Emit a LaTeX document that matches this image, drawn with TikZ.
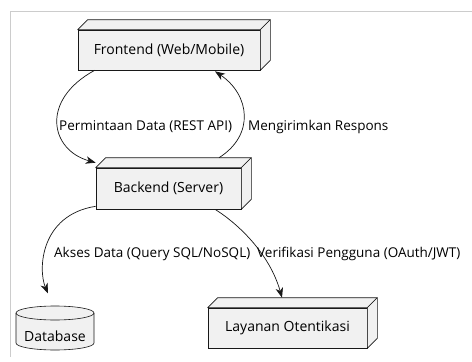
\documentclass[tikz,border=0pt]{standalone}
\usepackage{fontspec}
\setmainfont{Open Sans}
\usetikzlibrary{arrows.meta,calc}
\definecolor{boxfill}{HTML}{F1F1F1}
\definecolor{boxline}{HTML}{181818}
\definecolor{framegray}{HTML}{CCCCCC}
\tikzset{
  box3d/.style={draw=boxline, fill=boxfill, line width=0.6pt, inner sep=0pt,
    font=\fontsize{14}{16}\selectfont, text=black},
  edgelabel/.style={anchor=west, inner sep=0pt, font=\fontsize{13.5}{15}\selectfont, text=black},
  conn/.style={draw=boxline, line width=0.7pt, -{Stealth[length=10pt,width=7.5pt,inset=3pt]}},
  sidefill/.style={draw=boxline, fill=boxfill, line width=0.6pt, line join=round}
}
\newcommand{\boxdepth}[1]{%
  \path[sidefill] (#1.north west) -- ++(10,-10) -- ($(#1.north east)+(10,-10)$) -- (#1.north east) -- cycle;
  \path[sidefill] (#1.north east) -- ++(10,-10) -- ($(#1.south east)+(10,-10)$) -- (#1.south east) -- cycle;
}
\begin{document}
\begin{tikzpicture}[x=1pt,y=-1pt]
\useasboundingbox (0,0) rectangle (472,362);
\fill[white] (0,0) rectangle (472,362);
% frame
\draw[framegray, line width=1pt] (472,11) -- (10,11) -- (10,357);

% nodes
\node[box3d, minimum width=182pt, minimum height=40pt] (fe) at (169,50) {Frontend (Web/Mobile)};
\boxdepth{fe}
\node[box3d, minimum width=145pt, minimum height=41pt] (be) at (168.5,188.5) {Backend (Server)};
\boxdepth{be}
\node[box3d, minimum width=159pt, minimum height=40pt] (la) at (287.5,328) {Layanan Otentikasi};
\boxdepth{la}

% database cylinder
\path[draw=boxline, fill=boxfill, line width=0.6pt]
  (16,313) -- (16,343) arc[start angle=180, end angle=360, x radius=39pt, y radius=7pt]
  -- (94,313) arc[start angle=0, end angle=180, x radius=39pt, y radius=7pt] -- cycle;
\draw[boxline, line width=0.6pt] (16,313) arc[start angle=180, end angle=360, x radius=39pt, y radius=7pt];
\node[inner sep=0pt, font=\fontsize{14}{16}\selectfont, text=black] (db) at (55,336) {Database};

% connectors
\draw[conn] ($(fe.south west)+(17,0)$) .. controls (40,100) and (50,150) .. ($(be.north west)+(0,-5)$);
\draw[conn] ($(be.north)+(50.5,-10)$) .. controls (255,135) and (250,95) .. ($(fe.south)+(46,1)$);
\draw[conn] ($(be.south west)+(0,-3)$) .. controls (40,215) and (38,270) .. ($(db.north)+(-7,-37)$);
\draw[conn] ($(be.south)+(46.5,0)$) .. controls (240,225) and (270,255) .. ($(la.north)+(-5.5,-10)$);

% labels
\node[edgelabel] (l1) at (59,127) {Permintaan Data (REST API)};
\node[edgelabel] (l2) at (248,127) {Mengirimkan Respons};
\node[edgelabel] (l3) at (54,254) {Akses Data (Query SQL/NoSQL)};
\node[edgelabel] (l4) at (257,254) {Verifikasi Pengguna (OAuth/JWT)};
\end{tikzpicture}
\end{document}
